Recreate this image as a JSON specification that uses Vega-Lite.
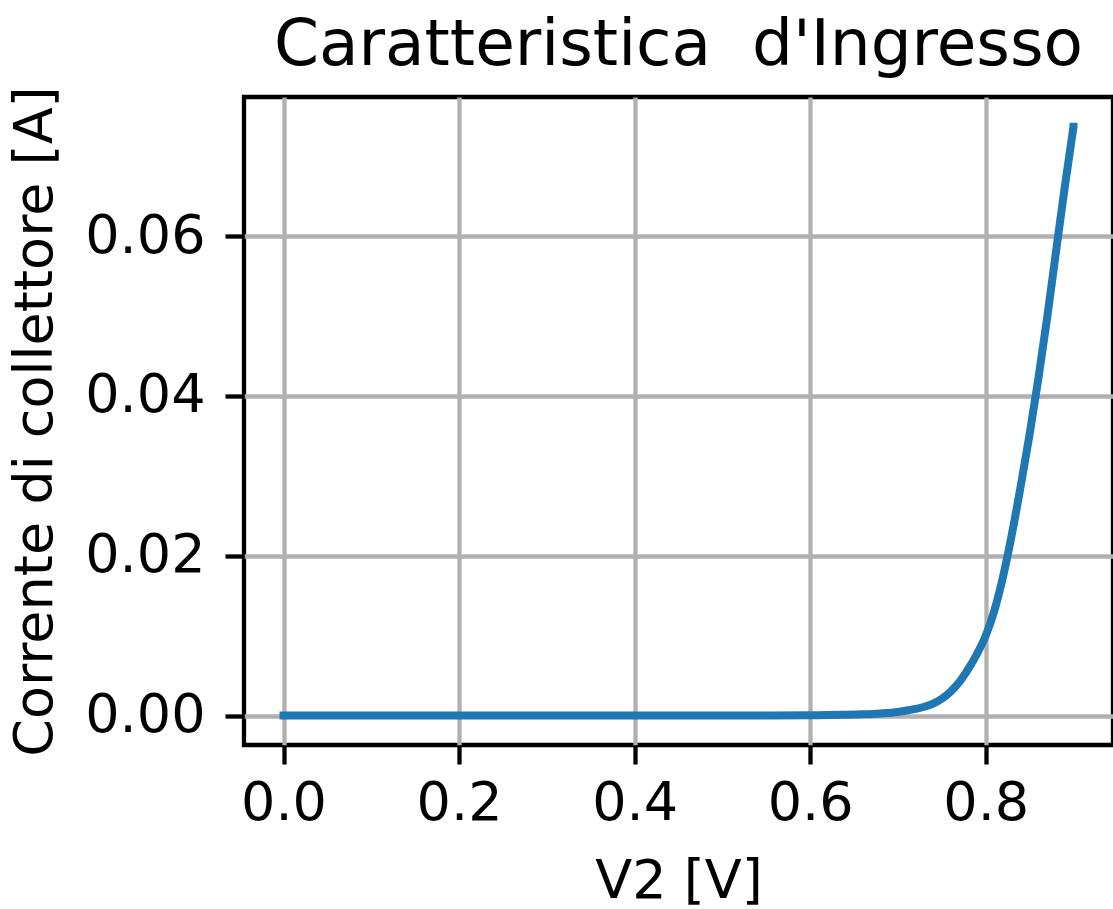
{
  "$schema": "https://vega.github.io/schema/vega-lite/v6.json",
  "autosize": {"type": "none"},
  "padding": {"left": 244, "top": 97, "right": 0, "bottom": 164},
  "width": 869,
  "height": 648,
  "background": "white",
  "title": {
    "text": "Caratteristica\u00a0 d'Ingresso",
    "font": "DejaVu Sans",
    "fontSize": 64.5,
    "fontWeight": "normal",
    "color": "black",
    "anchor": "middle",
    "baseline": "alphabetic",
    "offset": 34,
    "dy": 78
  },
  "config": {
    "view": {"stroke": "black", "strokeWidth": 4.3},
    "axis": {
      "labelFont": "DejaVu Sans",
      "labelFontSize": 54,
      "labelColor": "black",
      "titleFont": "DejaVu Sans",
      "titleFontSize": 54,
      "titleFontWeight": "normal",
      "titleColor": "black",
      "tickColor": "black",
      "tickWidth": 4.3,
      "tickSize": 19,
      "domain": false,
      "grid": true,
      "gridColor": "#b0b0b0",
      "gridWidth": 4.3
    }
  },
  "data": {
    "values": [
      {"V": 0.0, "I": 0.0},
      {"V": 0.1, "I": 0.0},
      {"V": 0.2, "I": 0.0},
      {"V": 0.3, "I": 0.0},
      {"V": 0.4, "I": 0.0},
      {"V": 0.5, "I": 0.0},
      {"V": 0.55, "I": 0.00001},
      {"V": 0.6, "I": 0.00003},
      {"V": 0.62, "I": 0.00005},
      {"V": 0.64, "I": 0.00009},
      {"V": 0.66, "I": 0.00015},
      {"V": 0.68, "I": 0.00026},
      {"V": 0.7, "I": 0.00045},
      {"V": 0.71, "I": 0.00062},
      {"V": 0.72, "I": 0.00083},
      {"V": 0.73, "I": 0.0011},
      {"V": 0.74, "I": 0.0015},
      {"V": 0.75, "I": 0.0021},
      {"V": 0.76, "I": 0.003},
      {"V": 0.77, "I": 0.0042},
      {"V": 0.78, "I": 0.0058},
      {"V": 0.79, "I": 0.0077},
      {"V": 0.8, "I": 0.01},
      {"V": 0.81, "I": 0.0132},
      {"V": 0.82, "I": 0.0175},
      {"V": 0.83, "I": 0.0228},
      {"V": 0.84, "I": 0.0288},
      {"V": 0.85, "I": 0.0352},
      {"V": 0.86, "I": 0.0422},
      {"V": 0.87, "I": 0.0498},
      {"V": 0.88, "I": 0.058},
      {"V": 0.89, "I": 0.0661},
      {"V": 0.9, "I": 0.0737}
    ]
  },
  "mark": {"type": "line", "color": "#1f77b4", "strokeWidth": 8, "strokeCap": "square", "strokeJoin": "round", "interpolate": "monotone", "clip": false},
  "encoding": {
    "x": {
      "field": "V",
      "type": "quantitative",
      "title": "V2 [V]",
      "scale": {"domain": [-0.045, 0.945], "nice": false, "zero": false},
      "axis": {"values": [0, 0.2, 0.4, 0.6, 0.8], "format": ".1f", "labelPadding": 12, "titlePadding": 24, "labelFlush": false}
    },
    "y": {
      "field": "I",
      "type": "quantitative",
      "title": "Corrente di collettore [A]",
      "scale": {"domain": [-0.00369, 0.07741], "nice": false, "zero": false},
      "axis": {"values": [0, 0.02, 0.04, 0.06], "format": ".2f", "labelPadding": 20, "titlePadding": 22, "labelFlush": false}
    }
  }
}
